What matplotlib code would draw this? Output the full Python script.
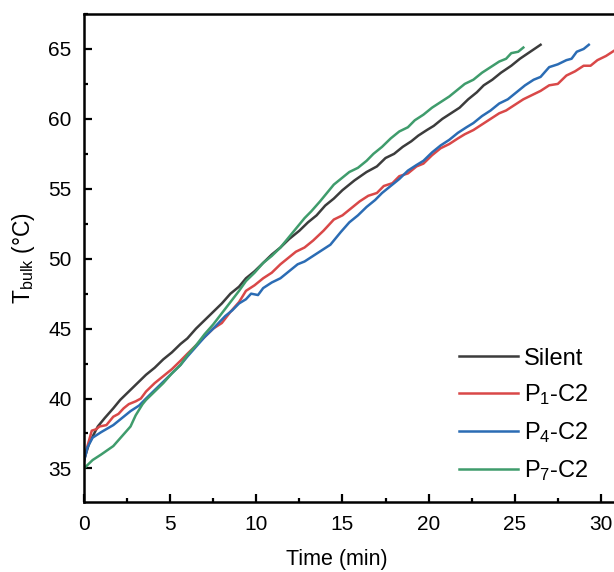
import matplotlib
matplotlib.use("Agg")
import matplotlib.pyplot as plt
from matplotlib.ticker import MultipleLocator

plt.rcParams['font.family'] = ['Liberation Sans', 'DejaVu Sans']
plt.rcParams['mathtext.fontset'] = 'custom'
plt.rcParams['mathtext.rm'] = 'Liberation Sans'
plt.rcParams['mathtext.it'] = 'Liberation Sans:italic'

# Silent
silent_t = [0, 0.3, 0.8, 1.2, 1.7, 2.1, 2.6, 3.1, 3.6, 4.1, 4.6, 5.1, 5.6, 6.0, 6.5, 7.0, 7.5,
            8.0, 8.5, 9.0, 9.4, 9.9, 10.4, 10.9, 11.4, 11.9, 12.5, 13.0, 13.5, 14.0, 14.5, 15.0,
            15.7, 16.4, 17.0, 17.5, 18.0, 18.5, 19.0, 19.4, 19.9, 20.3, 20.8, 21.3, 21.8, 22.3,
            22.8, 23.2, 23.7, 24.2, 24.8, 25.3, 25.9, 26.5]
silent_T = [35.6, 36.8, 38.0, 38.6, 39.3, 39.9, 40.5, 41.1, 41.7, 42.2, 42.8, 43.3, 43.9, 44.3, 45.0, 45.6, 46.2,
            46.8, 47.5, 48.0, 48.6, 49.1, 49.7, 50.3, 50.8, 51.4, 52.0, 52.6, 53.1, 53.8, 54.3, 54.9,
            55.6, 56.2, 56.6, 57.2, 57.5, 58.0, 58.4, 58.8, 59.2, 59.5, 60.0, 60.4, 60.8, 61.4,
            61.9, 62.4, 62.8, 63.3, 63.8, 64.3, 64.8, 65.3]

# P1-C2
p1_t = [0, 0.2, 0.45, 0.7, 0.9, 1.3, 1.7, 2.0, 2.3, 2.6, 3.0, 3.3, 3.6, 4.1, 4.6, 5.1, 5.6, 6.0,
        6.5, 7.0, 7.5, 8.0, 8.5, 9.0, 9.4, 9.9, 10.4, 10.9, 11.4, 11.8, 12.3, 12.8, 13.3, 13.9,
        14.5, 15.0, 15.5, 16.0, 16.5, 17.0, 17.4, 17.9, 18.3, 18.8, 19.3, 19.7, 20.2, 20.7,
        21.2, 21.7, 22.1, 22.6, 23.1, 23.6, 24.1, 24.5, 25.0, 25.5, 26.0, 26.5, 27.0, 27.5,
        28.0, 28.5, 29.0, 29.4, 29.8, 30.3, 30.8]
p1_T = [35.6, 36.6, 37.7, 37.8, 38.0, 38.1, 38.7, 38.9, 39.3, 39.6, 39.8, 40.0, 40.5, 41.1, 41.6, 42.1, 42.7, 43.2,
        43.8, 44.4, 45.0, 45.4, 46.2, 46.9, 47.7, 48.1, 48.6, 49.0, 49.6, 50.0, 50.5, 50.8, 51.3, 52.0,
        52.8, 53.1, 53.6, 54.1, 54.5, 54.7, 55.2, 55.4, 55.9, 56.1, 56.6, 56.8, 57.4, 57.9,
        58.2, 58.6, 58.9, 59.2, 59.6, 60.0, 60.4, 60.6, 61.0, 61.4, 61.7, 62.0, 62.4, 62.5,
        63.1, 63.4, 63.8, 63.8, 64.2, 64.5, 64.9]

# P4-C2
p4_t = [0, 0.2, 0.5, 1.0, 1.7, 2.2, 2.7, 3.2, 3.6, 4.1, 4.6, 5.1, 5.6, 6.0, 6.5, 7.0, 7.5, 8.2,
        8.6, 9.0, 9.4, 9.7, 10.1, 10.4, 10.9, 11.4, 11.9, 12.4, 12.8, 13.3, 13.8, 14.3, 14.9,
        15.4, 15.9, 16.4, 16.9, 17.3, 17.8, 18.3, 18.8, 19.3, 19.7, 20.2, 20.7, 21.2, 21.7,
        22.2, 22.6, 23.1, 23.6, 24.1, 24.6, 25.1, 25.6, 26.1, 26.5, 27.0, 27.5, 28.0, 28.3,
        28.6, 29.0, 29.3]
p4_T = [35.5, 36.5, 37.2, 37.6, 38.1, 38.6, 39.1, 39.5, 40.0, 40.6, 41.2, 41.8, 42.4, 43.0, 43.7, 44.4, 45.0, 45.9,
        46.3, 46.8, 47.1, 47.5, 47.4, 47.9, 48.3, 48.6, 49.1, 49.6, 49.8, 50.2, 50.6, 51.0, 51.9,
        52.6, 53.1, 53.7, 54.2, 54.7, 55.2, 55.7, 56.3, 56.7, 57.0, 57.6, 58.1, 58.5, 59.0,
        59.4, 59.7, 60.2, 60.6, 61.1, 61.4, 61.9, 62.4, 62.8, 63.0, 63.7, 63.9, 64.2, 64.3,
        64.8, 65.0, 65.3]

# P7-C2
p7_t = [0, 0.5, 1.0, 1.7, 2.2, 2.7, 3.0, 3.4, 3.6, 4.1, 4.6, 5.1, 5.6, 6.0, 6.5, 7.0, 7.5, 8.0,
        8.5, 9.0, 9.4, 9.9, 10.4, 10.9, 11.4, 11.8, 12.2, 12.8, 13.2, 13.7, 14.1, 14.5, 15.0,
        15.4, 15.9, 16.4, 16.8, 17.3, 17.8, 18.3, 18.8, 19.2, 19.7, 20.2, 20.7, 21.2, 21.6,
        22.1, 22.6, 23.1, 23.6, 24.1, 24.5, 24.8, 25.2, 25.5]
p7_T = [35.0, 35.6, 36.0, 36.6, 37.3, 38.0, 38.8, 39.6, 39.9, 40.5, 41.1, 41.8, 42.4, 43.1, 43.8, 44.6, 45.3, 46.1,
        46.9, 47.7, 48.4, 49.0, 49.7, 50.2, 50.8, 51.4, 52.0, 52.9, 53.4, 54.1, 54.7, 55.3, 55.8,
        56.2, 56.5, 57.0, 57.5, 58.0, 58.6, 59.1, 59.4, 59.9, 60.3, 60.8, 61.2, 61.6, 62.0,
        62.5, 62.8, 63.3, 63.7, 64.1, 64.3, 64.7, 64.8, 65.1]

labels = ['Silent', 'P$_1$-C2', 'P$_4$-C2', 'P$_7$-C2']
colors = ['#3c3c3c', '#d94848', '#2b6cb4', '#3f9c6c']

fig = plt.figure(figsize=(6.14, 5.72), dpi=100)
# right edge of the axes falls outside the picture, like the cropped original
ax = fig.add_axes([84 / 614, 70 / 572, 556.5 / 614, 488 / 572])

ax.plot(silent_t, silent_T, color=colors[0], lw=1.8, label=labels[0])
ax.plot(p1_t, p1_T, color=colors[1], lw=1.8, label=labels[1])
ax.plot(p4_t, p4_T, color=colors[2], lw=1.8, label=labels[2])
ax.plot(p7_t, p7_T, color=colors[3], lw=1.8, label=labels[3])

ax.set_xlim(0, 32.3)
ax.set_ylim(32.6, 67.5)
ax.xaxis.set_major_locator(MultipleLocator(5))
ax.xaxis.set_minor_locator(MultipleLocator(2.5))
ax.yaxis.set_major_locator(MultipleLocator(5))
ax.yaxis.set_minor_locator(MultipleLocator(2.5))
ax.tick_params(which='both', direction='in', width=1.6, labelsize=15, top=False, right=False)
ax.tick_params(which='major', length=6, pad=9)
ax.tick_params(which='minor', length=3)
for s in ax.spines.values():
    s.set_linewidth(1.8)

ax.set_xlabel('Time (min)', fontsize=15.5, labelpad=10)
ax.xaxis.set_label_coords((337 - 84) / 556.5, -0.097)
ax.set_ylabel(r'T$_{\rm bulk}$ (°C)', fontsize=16.5, labelpad=8)

ax.legend(loc='lower right', bbox_to_anchor=(0.945, -0.005), frameon=False, fontsize=17,
          handlelength=2.5, handletextpad=0.25, labelspacing=0.55)

fig.savefig('out.png', dpi=100)
